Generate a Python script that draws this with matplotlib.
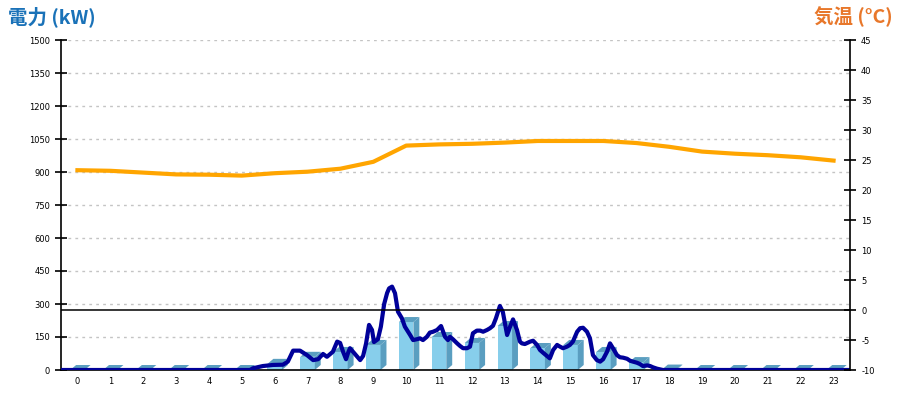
import matplotlib
matplotlib.use("Agg")
import matplotlib.pyplot as plt
from matplotlib.patches import Polygon, Rectangle

plt.rcParams['font.family'] = ['DejaVu Sans']

hours = list(range(24))
hour_labels = [str(h) for h in hours]

# hourly energy bars (kW)
bar_kw = [0, 0, 0, 0, 0, 0, 28, 60, 82, 114, 218, 150, 123, 200,
          100, 114, 82, 36, 2, 0, 0, 0, 0, 0]

# hourly temperature (deg C)
temp_c = [23.3, 23.2, 22.9, 22.6, 22.55, 22.4, 22.8, 23.05, 23.55, 24.7,
          27.4, 27.6, 27.7, 27.9, 28.17, 28.17, 28.17, 27.83, 27.2, 26.4,
          26.05, 25.8, 25.45, 24.9]

# power (kW) versus time of day (hours)
power_t = [0.0, 5.75, 5.84, 6.14, 6.45, 6.75, 6.90, 7.06, 7.27, 7.48, 7.67,
           7.82, 7.97, 8.09, 8.27, 8.40, 8.49, 8.58, 8.67, 8.73, 8.79, 8.94,
           9.10, 9.19, 9.28, 9.37, 9.46, 9.52, 9.64, 9.73, 9.83, 9.92, 9.98,
           10.07, 10.16, 10.25, 10.37, 10.46, 10.62, 10.71, 10.83, 10.92,
           11.01, 11.13, 11.22, 11.32, 11.44, 11.56, 11.68, 11.77, 11.83,
           11.92, 12.05, 12.14, 12.23, 12.35, 12.44, 12.53, 12.65, 12.75,
           12.84, 12.96, 13.05, 13.14, 13.23, 13.35, 13.44, 13.57, 13.66,
           13.75, 13.87, 13.96, 14.02, 14.11, 14.27, 14.36, 14.48, 14.57,
           14.66, 14.78, 14.87, 14.97, 15.09, 15.18, 15.27, 15.39, 15.48,
           15.57, 15.70, 15.79, 15.88, 16.00, 16.09, 16.18, 16.30, 16.40,
           16.49, 16.61, 16.70, 16.79, 16.91, 17.00, 17.10, 17.22, 17.31,
           17.40, 17.52, 17.61, 17.70, 17.83, 17.92, 18.01, 18.13, 18.22,
           18.31, 23.95]
power_kw = [0, 0, 8, 18, 23, 24, 38, 88, 88, 68, 45,
            49, 73, 60, 83, 129, 123, 83, 49, 77, 99, 73,
            45, 64, 121, 205, 182, 127, 140, 197, 300, 350, 371,
            379, 349, 265, 235, 197, 159, 136, 140, 144,
            136, 151, 170, 174, 182, 200, 151, 136, 151,
            140, 121, 109, 99, 99, 106, 167, 179, 179,
            174, 182, 190, 201, 235, 291, 264, 159, 197,
            230, 182, 129, 121, 118, 129, 133, 114, 91,
            79, 64, 53, 91, 114, 106, 99, 106, 114,
            129, 174, 190, 192, 174, 144, 68, 45, 38,
            49, 83, 121, 99, 68, 58, 56, 51, 42,
            38, 33, 27, 18, 21, 18, 12, 6, 3,
            0, 0]

kw_ticks = list(range(0, 1501, 150))
temp_ticks = list(range(-10, 46, 5))

fig = plt.figure(figsize=(9, 4), dpi=100)
ax = fig.add_axes([61/900, 30/400, 789/900, 330/400])
ax2 = ax.twinx()

ax.set_xlim(0, 24)
ax.set_ylim(0, 1500)
ax2.set_ylim(-10, 45)

# grid
for v in kw_ticks[1:]:
    ax.axhline(v, color='#c4c4c4', lw=1, ls=(0, (2, 3)), zorder=0)

front_c = '#87ceeb'
side_c = '#5a9ec0'
w = 0.44
dx = 0.18
dy = 22.7
for h, v in zip(hours, bar_kw):
    c = h + 0.5
    x0, x1 = c - w/2, c + w/2
    ax.add_patch(Rectangle((x0, 0), w, v, facecolor=front_c, edgecolor='none', zorder=2))
    ax.add_patch(Polygon([(x1, 0), (x1+dx, dy), (x1+dx, v+dy), (x1, v)],
                         closed=True, facecolor=side_c, edgecolor='none', zorder=2))
    ax.add_patch(Polygon([(x0, v), (x0+dx, v+dy), (x1+dx, v+dy), (x1, v)],
                         closed=True, facecolor=side_c, edgecolor='none', zorder=2))

ax.plot(power_t, power_kw, color='#000099', lw=3, zorder=5, solid_joinstyle='round')

ax2.axhline(0, color='black', lw=1.1, zorder=3)
ax2.plot([h + 0.5 for h in hours], temp_c, color='#ffa500', lw=3, zorder=4)

ax.set_xticks([h + 0.5 for h in hours])
ax.set_xticklabels(hour_labels, fontsize=6)
ax.tick_params(axis='x', length=0, pad=5)
ax.set_yticks(kw_ticks)
ax.set_yticklabels([str(v) for v in kw_ticks], fontsize=6)
ax.tick_params(axis='y', direction='inout', length=8, width=1.2, pad=4)
ax2.set_yticks(temp_ticks)
ax2.set_yticklabels([str(v) for v in temp_ticks], fontsize=6)
ax2.tick_params(axis='y', direction='inout', length=8, width=1.2, pad=4)

for a in (ax, ax2):
    a.spines['top'].set_visible(False)
    a.spines['left'].set_linewidth(1.2)
    a.spines['right'].set_linewidth(1.2)
    a.spines['bottom'].set_linewidth(1.2)
ax2.spines['left'].set_visible(False)
ax.spines['right'].set_visible(False)
ax2.spines['bottom'].set_visible(False)

fig.text(8/900, 1 - 17/400, '電力 (kW)', color='#1a72b8', fontsize=14, fontweight='bold',
         family=['Noto Sans CJK JP', 'DejaVu Sans'], va='center', ha='left')
fig.text(893/900, 1 - 17/400, '気温 (°C)', color='#e8772a', fontsize=14, fontweight='bold',
         family=['Noto Sans CJK JP', 'DejaVu Sans'], va='center', ha='right')

fig.savefig('out.png', dpi=100)
